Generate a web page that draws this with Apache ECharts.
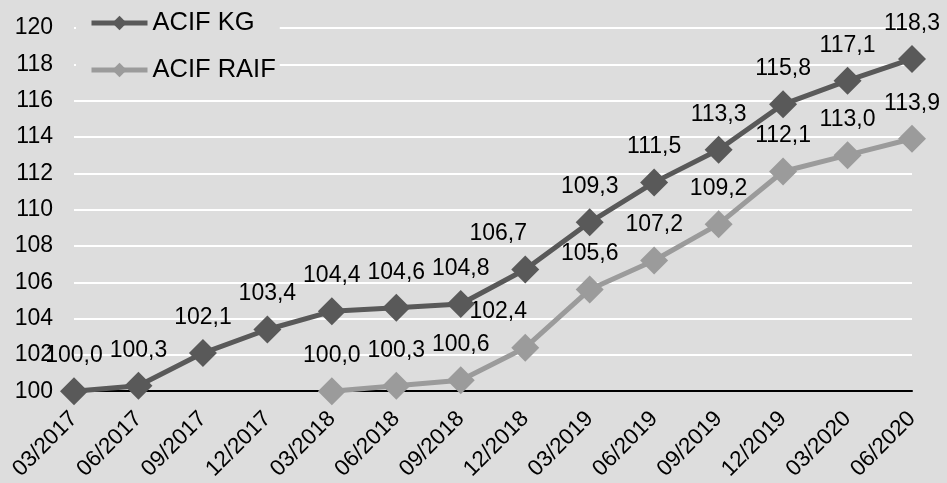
<!DOCTYPE html>
<html>
<head>
<meta charset="utf-8">
<script src="https://cdn.jsdelivr.net/npm/echarts@6/dist/echarts.min.js"></script>
<style>
html,body{margin:0;padding:0;background:#dddddd;}
#c{width:947px;height:483px;}
</style>
</head>
<body>
<div id="c"></div>
<script>
var categories = ['03/2017','06/2017','09/2017','12/2017','03/2018','06/2018','09/2018','12/2018','03/2019','06/2019','09/2019','12/2019','03/2020','06/2020'];
var kgValues = [100.0,100.3,102.1,103.4,104.4,104.6,104.8,106.7,109.3,111.5,113.3,115.8,117.1,118.3];
var raifValues = [null,null,null,null,100.0,100.3,100.6,102.4,105.6,107.2,109.2,112.1,113.0,113.9];
var yTicks = [100,102,104,106,108,110,112,114,116,118,120];

var FONT = 'Liberation Sans, Arial, sans-serif';
function fmt(p){ return p.value == null ? '' : p.value.toFixed(1).replace('.', ','); }
function build(vals, shiftIdx){
  return vals.map(function(v,i){
    var item = {value: v};
    if (shiftIdx.indexOf(i) >= 0) item.label = {offset: [-27, 0]};
    return item;
  });
}
var chart = echarts.init(document.getElementById('c'));
chart.setOption({
  backgroundColor: '#dddddd',
  animation: false,
  grid: {left: 74, right: 35, top: 28, bottom: 91},
  legend: {
    left: 76, top: 0, orient: 'vertical',
    padding: [10, 4, 10, 13],
    backgroundColor: '#dddddd',
    itemWidth: 56, itemHeight: 18, itemGap: 21,
    lineStyle: {width: 5},
    textStyle: {fontFamily: FONT, fontSize: 25.5, color: '#000'},
    data: ['ACIF KG', 'ACIF RAIF']
  },
  xAxis: {
    type: 'category', data: categories, boundaryGap: false,
    axisLine: {lineStyle: {color: '#000', width: 2}},
    axisTick: {show: false},
    axisLabel: {rotate: 45, margin: 24, fontFamily: FONT, fontSize: 22.5, color: '#000', interval: 0}
  },
  yAxis: {
    type: 'value', min: yTicks[0], max: yTicks[yTicks.length-1], interval: 2,
    axisLine: {show: false}, axisTick: {show: false},
    splitLine: {lineStyle: {color: '#ffffff', width: 2}},
    axisLabel: {margin: 21, fontFamily: FONT, fontSize: 23, color: '#000'}
  },
  series: [
    {
      name: 'ACIF KG', type: 'line', data: build(kgValues, [7]),
      symbol: 'diamond', symbolSize: 28,
      lineStyle: {color: '#595959', width: 5},
      itemStyle: {color: '#595959'},
      label: {show: true, position: 'top', distance: 10, formatter: fmt, fontFamily: FONT, fontSize: 23, color: '#000'},
      z: 3
    },
    {
      name: 'ACIF RAIF', type: 'line', data: build(raifValues, [7]),
      symbol: 'diamond', symbolSize: 28,
      lineStyle: {color: '#9b9b9b', width: 5},
      itemStyle: {color: '#9b9b9b'},
      label: {show: true, position: 'top', distance: 10, formatter: fmt, fontFamily: FONT, fontSize: 23, color: '#000'},
      z: 2
    }
  ]
});
</script>
</body>
</html>
